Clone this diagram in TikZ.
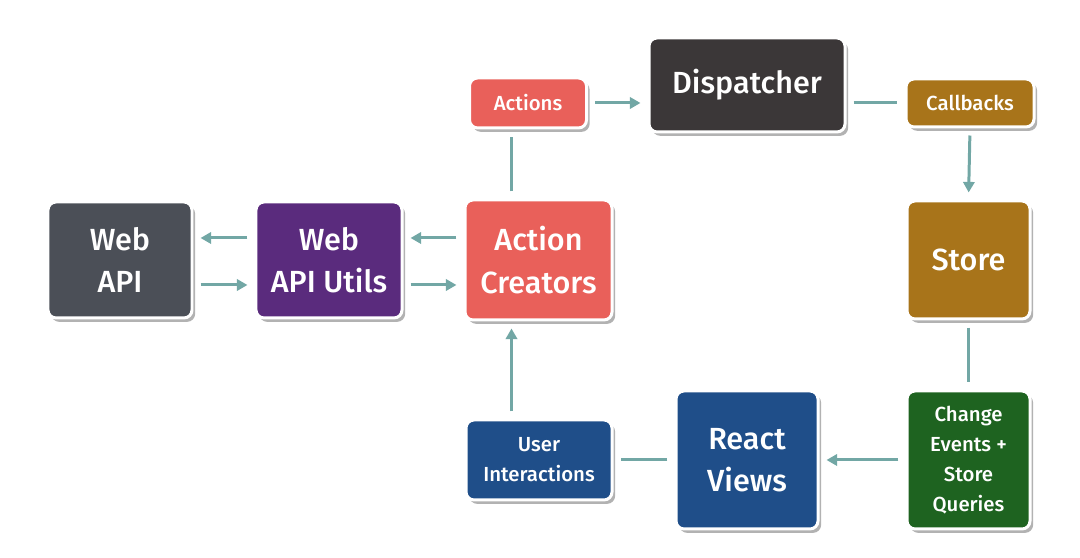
\documentclass[tikz,border=0pt]{standalone}
\usepackage{fontspec}
\setmainfont{Fira Sans}[BoldFont={Fira Sans Medium}]
\usetikzlibrary{arrows.meta,shadows}

\definecolor{grisapi}{HTML}{4B4F57}
\definecolor{morado}{HTML}{5A2B7D}
\definecolor{coral}{HTML}{E9605A}
\definecolor{negro}{HTML}{3B3738}
\definecolor{ocre}{HTML}{A8741A}
\definecolor{verde}{HTML}{1E6320}
\definecolor{azul}{HTML}{1F4E89}
\definecolor{flechas}{HTML}{72A7A5}

\tikzset{
  caja/.style={rounded corners=2.3pt, draw=white, line width=0.85pt,
    text=white, align=center, inner sep=0pt, font=\bfseries,
    drop shadow={shadow xshift=0.9pt, shadow yshift=-1.1pt, fill=black, opacity=0.3}},
  grande/.style={caja, font=\bfseries\fontsize{8.7}{12}\selectfont},
  chica/.style={caja, font=\bfseries\fontsize{5.8}{8.5}\selectfont},
  linea/.style={draw=flechas, line width=0.85pt, shorten <=2pt, shorten >=2pt},
  flecha/.style={linea, -{Triangle[length=3pt, width=3.2pt]}}
}

\begin{document}
\begin{tikzpicture}
    \useasboundingbox (0,0) rectangle (10.8,5.58);

    % Fila central
    \node[grande, fill=grisapi, minimum width=1.44cm, minimum height=1.16cm] (webapi) at (1.20, 2.98) {Web\\API};
    \node[grande, fill=morado, minimum width=1.46cm, minimum height=1.16cm] (utils) at (3.29, 2.98) {Web\\API Utils};
    \node[grande, fill=coral, minimum width=1.47cm, minimum height=1.20cm] (creators) at (5.385, 2.98) {Action\\Creators};
    \node[grande, fill=ocre, minimum width=1.23cm, minimum height=1.18cm] (store) at (9.685, 2.98) {Store};

    % Fila superior
    \node[chica, fill=coral, minimum width=1.17cm, minimum height=0.50cm] (actions) at (5.28, 4.55) {Actions};
    \node[grande, fill=negro, minimum width=1.96cm, minimum height=0.94cm] (dispatcher) at (7.47, 4.73) {Dispatcher};
    \node[chica, fill=ocre, minimum width=1.28cm, minimum height=0.48cm] (callbacks) at (9.70, 4.55) {Callbacks};

    % Fila inferior
    \node[chica, fill=verde, minimum width=1.23cm, minimum height=1.38cm] (change) at (9.685, 0.98) {Change\\Events +\\Store\\Queries};
    \node[grande, fill=azul, minimum width=1.42cm, minimum height=1.38cm] (react) at (7.47, 0.98) {React\\Views};
    \node[chica, fill=azul, minimum width=1.46cm, minimum height=0.80cm] (user) at (5.39, 0.98) {User\\Interactions};

    % Conexiones izquierda
    \draw[flecha] ([yshift=0.22cm]utils.west) -- ([yshift=0.22cm]webapi.east);
    \draw[flecha] ([yshift=-0.25cm]webapi.east) -- ([yshift=-0.25cm]utils.west);
    \draw[flecha] ([yshift=0.22cm]creators.west) -- ([yshift=0.22cm]utils.east);
    \draw[flecha] ([yshift=-0.25cm]utils.east) -- ([yshift=-0.25cm]creators.west);

    % Ciclo
    \draw[linea] ([xshift=-0.27cm]creators.north) -- ([xshift=-0.27cm]creators.north |- actions.south);
    \draw[flecha] (actions.east) -- (actions.east -| dispatcher.west);
    \draw[linea] (dispatcher.east |- callbacks.west) -- (callbacks.west);
    \draw[flecha] (callbacks.south) -- (store.north);
    \draw[linea] (store.south) -- (change.north);
    \draw[flecha] (change.west) -- (react.east);
    \draw[linea] (react.west) -- (user.east);
    \draw[flecha] ([xshift=-0.27cm]creators.south |- user.north) -- ([xshift=-0.27cm]creators.south);

\end{tikzpicture}
\end{document}
